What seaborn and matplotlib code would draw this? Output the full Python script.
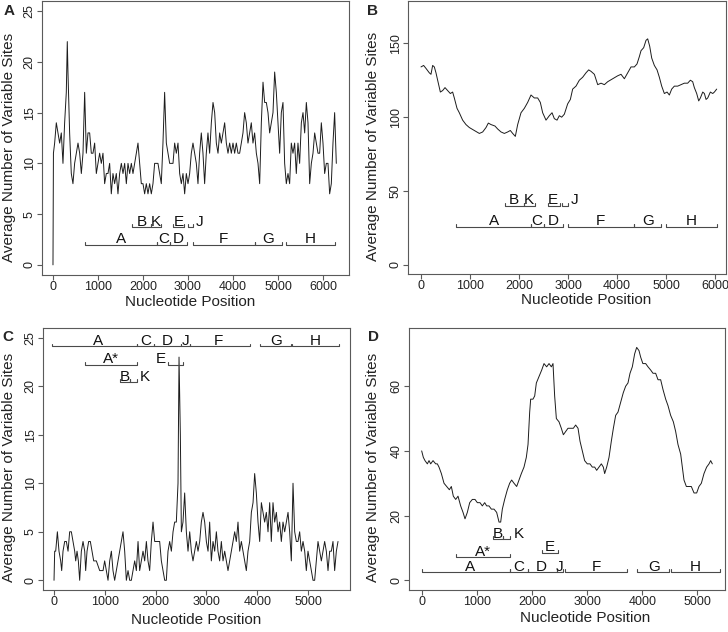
import numpy as np
import pandas as pd
import matplotlib
matplotlib.use('Agg')
import matplotlib.pyplot as plt
import seaborn as sns

sns.set_style('ticks')
plt.rcParams['font.family'] = ['Liberation Sans', 'DejaVu Sans']

# ---- panel A: sliding window, variable sites ----
a_pos = [0, 10, 37, 74, 111, 148, 185, 222, 259, 296, 318, 333, 370, 407, 444, 481, 519, 556, 593, 630,
         667, 704, 741, 778, 815, 852, 889, 926, 963, 1000, 1037, 1074, 1111, 1148, 1185, 1222, 1259, 1296,
         1333, 1370, 1407, 1444, 1481, 1519, 1556, 1593, 1630, 1667, 1704, 1741, 1778, 1815, 1852, 1889,
         1926, 1963, 2000, 2037, 2074, 2111, 2148, 2185, 2222, 2259, 2296, 2333, 2370, 2407, 2444, 2481,
         2519, 2556, 2593, 2630, 2667, 2704, 2741, 2778, 2815, 2852, 2889, 2926, 2963, 3000, 3037, 3074,
         3111, 3148, 3185, 3222, 3259, 3296, 3333, 3370, 3407, 3444, 3481, 3519, 3556, 3593, 3630, 3667,
         3704, 3741, 3778, 3815, 3852, 3889, 3926, 3963, 4000, 4037, 4074, 4111, 4148, 4185, 4222, 4259,
         4296, 4333, 4370, 4407, 4444, 4481, 4519, 4556, 4593, 4630, 4667, 4704, 4741, 4778, 4815, 4852,
         4889, 4926, 4963, 5000, 5037, 5074, 5111, 5148, 5185, 5222, 5259, 5296, 5333, 5370, 5407, 5444,
         5481, 5519, 5556, 5593, 5630, 5667, 5704, 5741, 5778, 5815, 5852, 5889, 5926, 5963, 6000, 6037,
         6074, 6111, 6148, 6185, 6222, 6259, 6296]
a_sites = [0, 11, 12, 14, 13, 12, 13, 10, 14, 17, 22, 19, 13, 9, 8, 10, 11, 12, 11, 9,
           11, 17, 11, 13, 13, 11, 11, 12, 9, 10, 11, 10, 11, 8, 9, 9, 10, 7,
           9, 8, 9, 7, 9, 10, 9, 10, 8, 10, 9, 10, 9, 10, 11, 12,
           10, 8, 8, 7, 8, 7, 8, 7, 8, 10, 10, 10, 9, 8, 12, 17,
           12, 11, 10, 10, 10, 12, 11, 12, 9, 8, 9, 7, 9, 8, 9, 11,
           12, 11, 10, 8, 11, 13, 11, 8, 11, 13, 11, 14, 16, 15, 12, 11,
           13, 12, 13, 14, 12, 11, 12, 11, 12, 11, 12, 11, 11, 12, 13, 15,
           14, 12, 13, 14, 12, 13, 11, 10, 8, 14, 18, 16, 16, 15, 13, 14,
           15, 19, 17, 14, 11, 15, 16, 10, 8, 9, 8, 12, 11, 12, 9, 12,
           10, 14, 15, 13, 16, 14, 8, 10, 11, 13, 12, 11, 11, 14, 12, 9,
           10, 10, 7, 8, 12, 15, 10]

# ---- panel B ----
b_pos = [0, 54, 102, 170, 204, 238, 272, 306, 340, 395, 442, 490, 544, 599, 646, 680, 735, 782, 850, 918,
         986, 1088, 1191, 1259, 1327, 1374, 1429, 1510, 1565, 1633, 1701, 1769, 1823, 1871, 1925, 1973,
         2041, 2109, 2177, 2245, 2313, 2381, 2435, 2483, 2551, 2619, 2674, 2721, 2776, 2823, 2871, 2925,
         2993, 3048, 3095, 3163, 3231, 3299, 3367, 3422, 3470, 3538, 3606, 3674, 3742, 3810, 3912, 4014,
         4082, 4150, 4218, 4286, 4354, 4408, 4456, 4490, 4544, 4592, 4626, 4667, 4708, 4762, 4817, 4864,
         4912, 4966, 5021, 5068, 5116, 5170, 5238, 5306, 5374, 5442, 5497, 5544, 5578, 5626, 5667, 5701,
         5749, 5783, 5817, 5851, 5905, 5953, 5987, 6034]
b_sites = [134, 135, 133, 130, 129, 135, 134, 130, 125, 117, 118, 120, 118, 116, 117, 113, 106, 103, 98, 95,
           93, 91, 89, 90, 93, 96, 95, 94, 92, 90, 89, 90, 91, 89, 87, 95,
           103, 106, 110, 115, 113, 113, 110, 103, 98, 101, 103, 99, 98, 101, 100, 102,
           109, 112, 119, 121, 125, 127, 130, 132, 131, 129, 122, 123, 122, 124, 126, 128,
           129, 126, 130, 134, 134, 136, 141, 145, 147, 152, 153, 148, 140, 135, 132, 127,
           121, 116, 117, 115, 119, 121, 121, 122, 123, 123, 125, 124, 120, 116, 111, 113,
           117, 116, 112, 113, 117, 116, 117, 119]

# ---- panel C ----
c_pos = [0, 13, 33, 66, 98, 131, 151, 177, 210, 243, 276, 308, 341, 374, 407, 427, 453, 479, 505, 538,
         571, 604, 623, 650, 682, 715, 748, 781, 833, 899, 965, 997, 1030, 1063, 1096, 1129, 1161, 1194,
         1227, 1260, 1293, 1326, 1358, 1391, 1424, 1457, 1490, 1522, 1555, 1588, 1621, 1654, 1686, 1719,
         1752, 1785, 1818, 1850, 1883, 1916, 1949, 1982, 2015, 2047, 2080, 2113, 2146, 2179, 2211, 2244,
         2277, 2310, 2343, 2375, 2408, 2441, 2461, 2487, 2507, 2539, 2572, 2605, 2638, 2671, 2704, 2736,
         2769, 2802, 2835, 2868, 2900, 2933, 2966, 2999, 3032, 3064, 3097, 3130, 3163, 3196, 3228, 3261,
         3294, 3327, 3360, 3393, 3425, 3458, 3491, 3524, 3557, 3589, 3622, 3655, 3688, 3721, 3754, 3786,
         3819, 3852, 3885, 3918, 3950, 3983, 4016, 4049, 4082, 4114, 4147, 4180, 4213, 4246, 4278, 4311,
         4344, 4377, 4410, 4442, 4475, 4508, 4541, 4574, 4607, 4639, 4672, 4705, 4738, 4771, 4803, 4836,
         4869, 4902, 4935, 4967, 5000, 5033, 5066, 5099, 5131, 5164, 5197, 5230, 5263, 5296, 5328, 5361,
         5394, 5427, 5460, 5492, 5525, 5558, 5591]
c_sites = [0, 3, 3, 5, 3, 2, 1, 3, 4, 4, 3, 5, 5, 4, 3, 2, 3, 2, 0, 3,
           4, 3, 1, 3, 4, 4, 3, 2, 2, 1, 1, 2, 1, 0, 2, 3, 1, 0,
           1, 2, 3, 4, 5, 3, 0, 1, 0, 0, 1, 2, 1, 4, 1, 2,
           3, 2, 4, 2, 1, 4, 6, 4, 4, 4, 4, 2, 1, 0, 0, 3,
           4, 3, 5, 6, 6, 10, 23, 15, 5, 6, 9, 5, 3, 5, 3, 2,
           3, 4, 3, 4, 6, 7, 6, 4, 3, 6, 2, 4, 3, 5, 3, 2,
           4, 2, 3, 2, 1, 2, 3, 4, 5, 4, 6, 3, 4, 3, 2, 1,
           3, 4, 7, 8, 11, 9, 6, 4, 8, 7, 6, 7, 5, 8, 4, 8,
           6, 7, 5, 6, 4, 6, 5, 6, 7, 5, 2, 10, 5, 4, 4, 5,
           3, 4, 3, 1, 3, 2, 1, 0, 0, 2, 4, 3, 2, 3, 4, 3,
           1, 3, 3, 4, 1, 3, 4]

# ---- panel D ----
d_pos = [0, 30, 60, 103, 133, 163, 206, 254, 284, 314, 357, 405, 453, 502, 538, 574, 617, 659, 707, 750,
         786, 828, 871, 919, 967, 1010, 1058, 1100, 1143, 1179, 1221, 1264, 1312, 1360, 1403, 1433, 1463,
         1505, 1554, 1596, 1632, 1675, 1723, 1765, 1808, 1856, 1898, 1929, 1959, 1977, 2019, 2050, 2080,
         2128, 2177, 2219, 2267, 2310, 2352, 2382, 2412, 2443, 2491, 2533, 2570, 2612, 2654, 2703, 2751,
         2793, 2836, 2872, 2914, 2956, 3004, 3053, 3095, 3138, 3174, 3216, 3259, 3295, 3319, 3356, 3398,
         3440, 3477, 3519, 3561, 3609, 3657, 3700, 3742, 3779, 3821, 3863, 3900, 3942, 3972, 4012, 4063,
         4105, 4154, 4196, 4244, 4287, 4335, 4377, 4426, 4468, 4516, 4565, 4607, 4649, 4698, 4728, 4758,
         4801, 4849, 4891, 4940, 4988, 5030, 5073, 5121, 5169, 5212, 5242, 5272]
d_sites = [40, 38, 37, 36, 37, 36, 37, 36, 36, 35, 33, 30, 29, 28, 29, 26, 25, 26, 23, 21,
           19, 21, 24, 25, 25, 24, 24, 23, 24, 23, 23, 22, 22, 21, 18, 18, 22,
           25, 28, 30, 31, 30, 29, 31, 33, 35, 38, 42, 52, 56, 56, 57, 61,
           63, 65, 67, 66, 67, 66, 67, 57, 50, 49, 47, 45, 46, 47, 47, 47,
           48, 47, 43, 40, 37, 36, 36, 35, 35, 34, 35, 36, 35, 33, 35, 38,
           43, 47, 51, 52, 55, 58, 60, 61, 64, 66, 70, 72, 71, 69, 67, 67,
           66, 65, 64, 64, 62, 62, 59, 56, 54, 51, 49, 46, 42, 39, 35, 31,
           29, 29, 29, 27, 27, 29, 30, 33, 35, 36, 37, 36]

# ---- gene regions (brackets) ----
a_genes = ['A', 'C', 'D', 'F', 'G', 'H', 'B', 'K', 'E', 'J']
a_start = [718, 2318, 2600, 3104, 4489, 5178, 1748, 2178, 2674, 2993]
a_end = [2318, 2600, 2985, 4489, 5082, 6267, 2178, 2393, 2911, 3104]
a_level = [2.0, 2.0, 2.0, 2.0, 2.0, 2.0, 3.7, 3.7, 3.7, 3.7]
a_label_x = [1518, 2459, 2792, 3796, 4785, 5722, 1963, 2285, 2792, 3252]

b_genes = ['A', 'C', 'D', 'F', 'G', 'H', 'B', 'K', 'E', 'J']
b_start = [721, 2238, 2517, 3007, 4340, 5000, 1707, 2109, 2592, 2884]
b_end = [2238, 2517, 2898, 4340, 4898, 6034, 2109, 2333, 2837, 3007]
b_level = [26, 26, 26, 26, 26, 26, 40, 40, 40, 40]
b_label_x = [1497, 2367, 2701, 3660, 4626, 5510, 1891, 2197, 2694, 3129]

c_genes = ['A', 'C', 'D', 'J', 'F', 'G', 'H', 'A*', 'E', 'B', 'K']
c_start = [-30, 1634, 1962, 2507, 2684, 4049, 4692, 604, 2251, 1306, 1490]
c_end = [1634, 1962, 2507, 2684, 3852, 4672, 5611, 1634, 2540, 1490, 1634]
c_level = [24.1, 24.1, 24.1, 24.1, 24.1, 24.1, 24.1, 22.2, 22.2, 20.4, 20.4]
c_label_x = [866, 1805, 2231, 2585, 3242, 4377, 5151, 1129, 2093, 1398, 1785]

d_genes = ['A', 'C', 'D', 'J', 'F', 'G', 'H', 'A*', 'E', 'B', 'K']
d_start = [5, 1607, 1923, 2449, 2605, 3906, 4528, 622, 2188, 1299, 1470]
d_end = [1607, 1923, 2449, 2569, 3725, 4492, 5412, 1607, 2473, 1470, 1607]
d_level = [2.5, 2.5, 2.5, 2.5, 2.5, 2.5, 2.5, 7.2, 8.5, 12.8, 12.8]
d_label_x = [876, 1765, 2177, 2509, 3162, 4214, 4958, 1112, 2328, 1390, 1753]

box_col = '#5a5a5a'

fig = plt.figure(figsize=(7.28, 6.32), dpi=100)


def draw_panel(rect, pos, sites, genes, starts, ends, levels, label_x,
               xlim, ylim, xticks, yticks, letter, letter_xy, xlab_xy, ylab_xy):
    ax = fig.add_axes(rect)
    df = pd.DataFrame({'pos': pos, 'sites': sites})
    sns.lineplot(data=df, x='pos', y='sites', ax=ax, color='#1c1c1c',
                 linewidth=0.7, estimator=None, sort=False)
    tick_h = (ylim[1] - ylim[0]) * 0.011
    for g, s, e, lv, lx in zip(genes, starts, ends, levels, label_x):
        ax.plot([s, s, e, e], [lv + tick_h, lv, lv, lv + tick_h], color='#4a4a4a', lw=0.8)
        ax.annotate(g, (lx, lv), xytext=(0, 1), textcoords='offset points',
                    ha='center', va='baseline', fontsize=11, color='#111111')
    ax.set_xlim(xlim)
    ax.set_ylim(ylim)
    ax.set_xticks(xticks)
    ax.set_yticks(yticks)
    ax.set_xticklabels([str(t) for t in xticks])
    ax.set_yticklabels([str(t) for t in yticks], rotation=90, va='center')
    ax.tick_params(axis='both', length=3.6, width=0.8, color=box_col,
                   labelsize=9, labelcolor='#222222')
    ax.tick_params(axis='x', pad=0.8)
    ax.tick_params(axis='y', pad=1.0)
    for sp in ax.spines.values():
        sp.set_visible(True)
        sp.set_color(box_col)
        sp.set_linewidth(0.8)
    ax.set_xlabel('Nucleotide Position', fontsize=11, color='#222222')
    ax.set_ylabel('Average Number of Variable Sites', fontsize=11, color='#222222')
    ax.xaxis.set_label_coords(*xlab_xy)
    ax.yaxis.set_label_coords(*ylab_xy)
    fig.text(letter_xy[0] / 728, 1 - letter_xy[1] / 632, letter, fontsize=11,
             fontweight='bold', ha='center', va='center')
    return ax


draw_panel([42 / 728, (632 - 275) / 632, 307 / 728, 274 / 632],
           a_pos, a_sites, a_genes, a_start, a_end, a_level, a_label_x,
           (-244, 6578), (-1.0, 26.0), [0, 1000, 2000, 3000, 4000, 5000, 6000],
           [0, 5, 10, 15, 20, 25], 'A', (9, 11), (0.482, -0.073), (-0.085, 0.467))

draw_panel([408 / 728, (632 - 274) / 632, 318 / 728, 273 / 632],
           b_pos, b_sites, b_genes, b_start, b_end, b_level, b_label_x,
           (-265, 6224), (-6.1, 178.6), [0, 1000, 2000, 3000, 4000, 5000, 6000],
           [0, 50, 100, 150], 'B', (373, 11), (0.56, -0.068), (-0.088, 0.467))

draw_panel([43 / 728, (632 - 590) / 632, 307 / 728, 262 / 632],
           c_pos, c_sites, c_genes, c_start, c_end, c_level, c_label_x,
           (-217, 5827), (-1.0, 26.0), [0, 1000, 2000, 3000, 4000, 5000],
           [0, 5, 10, 15, 20, 25], 'C', (8, 337), (0.5, -0.088), (-0.088, 0.467))

draw_panel([409 / 728, (632 - 590) / 632, 316 / 728, 262 / 632],
           d_pos, d_sites, d_genes, d_start, d_end, d_level, d_label_x,
           (-230, 5502), (-3.0, 78.0), [0, 1000, 2000, 3000, 4000, 5000],
           [0, 20, 40, 60], 'D', (374, 337), (0.557, -0.080), (-0.092, 0.467))

fig.savefig('out.png', dpi=100)
